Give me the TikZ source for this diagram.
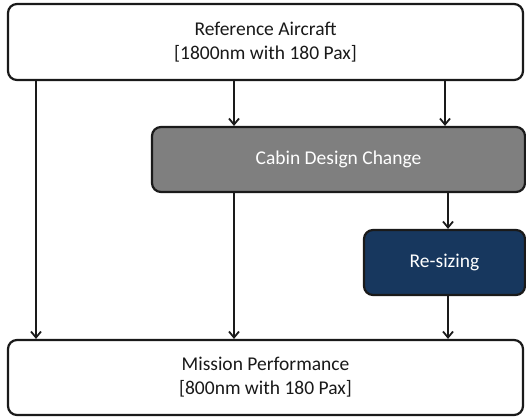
\documentclass[tikz,border=0pt]{standalone}
\usepackage{fontspec}
\setmainfont{Carlito}
\usetikzlibrary{arrows.meta}
\definecolor{boxgray}{HTML}{7F7F7F}
\definecolor{boxblue}{HTML}{17375E}
\definecolor{edge}{HTML}{1A1A1A}
\begin{document}
\begin{tikzpicture}[x=1pt,y=-1pt,
  base/.style={draw=edge, line width=2.2pt, rounded corners=9pt, align=center, inner sep=0pt,
    font=\fontsize{19.5}{24}\selectfont},
  white box/.style={base, fill=white, text=black!90},
  gray box/.style={base, fill=boxgray, text=white},
  blue box/.style={base, fill=boxblue, text=white},
  arr/.style={draw=edge, line width=1.8pt, -{Straight Barb[length=6pt,width=10pt,line width=1.8pt]}}]
\useasboundingbox (0,0) rectangle (526,416);
\node[white box, minimum width=515pt, minimum height=76pt] (top) at (265.5,42) {Reference Aircraft\\{[1800nm with 180 Pax]}};
\node[gray box, minimum width=373pt, minimum height=65pt] (cabin) at (338.5,159.5) {Cabin Design Change};
\node[blue box, minimum width=161pt, minimum height=65pt] (resize) at (444.5,262.5) {Re-sizing};
\node[white box, minimum width=515pt, minimum height=75pt] (bot) at (265.5,377.5) {Mission Performance\\{[800nm with 180 Pax]}};
\coordinate (xa) at (36,0);
\coordinate (xb) at (234,0);
\coordinate (xc) at (445,0);
\coordinate (xd) at (448,0);
\draw[arr] (top.south -| xa) -- (bot.north -| xa);
\draw[arr] (top.south -| xb) -- (cabin.north -| xb);
\draw[arr] (top.south -| xc) -- (cabin.north -| xc);
\draw[arr] (cabin.south -| xb) -- (bot.north -| xb);
\draw[arr] (cabin.south -| xd) -- (resize.north -| xd);
\draw[arr] (resize.south -| xd) -- (bot.north -| xd);
\end{tikzpicture}
\end{document}
